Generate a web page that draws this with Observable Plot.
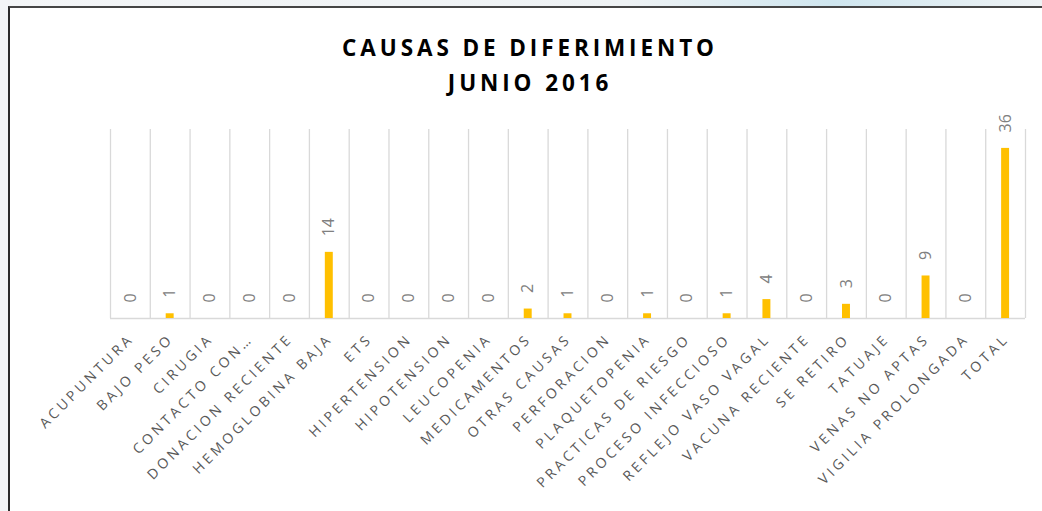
<!DOCTYPE html>
<html>
<head>
<meta charset="utf-8">
<script src="https://cdn.jsdelivr.net/npm/d3@7"></script>
<script src="https://cdn.jsdelivr.net/npm/@observablehq/plot@0.6"></script>
<style>
  html, body { margin: 0; padding: 0; }
  body { width: 1042px; height: 511px; overflow: hidden; position: relative;
         background: linear-gradient(90deg, #f3f5f7 0%, #eef2f4 60%, #cfe6ef 80%, #eef2f4 100%); }
  #frame { position: absolute; left: 8px; top: 6px; width: 1032px; height: 505px;
           border-left: 2px solid #2b2b2b; border-top: 2px solid #454545; background: #fff; }
  #title { height: 70px; padding: 22px 0 0 8px; line-height: 35px; text-align: center;
           font-family: "Open Sans", sans-serif; font-weight: 700; font-size: 22.5px;
           letter-spacing: 3.9px; color: #000; }
  #chart svg { display: block; }
</style>
</head>
<body>
<div id="frame">
  <div id="title">CAUSAS DE DIFERIMIENTO<br>JUNIO 2016</div>
  <div id="chart"></div>
</div>
<script>
const categories = ["ACUPUNTURA", "BAJO PESO", "CIRUGIA", "CONTACTO CON…", "DONACION RECIENTE",
  "HEMOGLOBINA BAJA", "ETS", "HIPERTENSION", "HIPOTENSION", "LEUCOPENIA", "MEDICAMENTOS",
  "OTRAS CAUSAS", "PERFORACION", "PLAQUETOPENIA", "PRACTICAS DE RIESGO", "PROCESO INFECCIOSO",
  "REFLEJO VASO VAGAL", "VACUNA RECIENTE", "SE RETIRO", "TATUAJE", "VENAS NO APTAS",
  "VIGILIA PROLONGADA", "TOTAL"];
const values = [0, 1, 0, 0, 0, 14, 0, 0, 0, 0, 2, 1, 0, 1, 0, 1, 4, 0, 3, 0, 9, 0, 36];
const yMax = 40;

const data = categories.map((c, i) => ({i, category: c, value: values[i]}));
const n = categories.length;

const chart = Plot.plot({
  width: 1032,
  height: 411,
  marginLeft: 100,
  marginRight: 17,
  marginTop: 29,
  marginBottom: 193,
  x: {type: "linear", domain: [0, n], axis: null},
  y: {domain: [0, yMax], axis: null},
  style: {fontFamily: "'Open Sans', sans-serif", background: "transparent", overflow: "visible"},
  marks: [
    Plot.ruleX(d3.range(n + 1), {y1: 0, y2: yMax, stroke: "#d9d9d9", strokeWidth: 1.3}),
    Plot.ruleY([0], {x1: 0, x2: n, stroke: "#d9d9d9", strokeWidth: 1.6}),
    Plot.rectY(data, {x1: d => d.i + 0.4, x2: d => d.i + 0.6, y: "value", fill: "#ffc000"}),
    Plot.text(data, {x: d => d.i + 0.5, y: "value", text: d => String(d.value), rotate: -90,
      textAnchor: "start", dy: -16, fontSize: 16, fill: "#808080"}),
    Plot.text(data, {x: d => d.i + 0.5, y: 0, text: "category", rotate: -45,
      textAnchor: "end", dx: 1, dy: 18, fontSize: 14, fill: "#595959"})
  ]
});
const textGroups = d3.select(chart).selectAll('g[aria-label="text"]').nodes();
const xl = d3.select(textGroups[textGroups.length - 1]);
xl.attr("letter-spacing", "3.4px").style("letter-spacing", "3.4px");
xl.selectAll("text").attr("letter-spacing", "3.4px").style("letter-spacing", "3.4px");
document.getElementById("chart").appendChild(chart);
</script>
</body>
</html>
